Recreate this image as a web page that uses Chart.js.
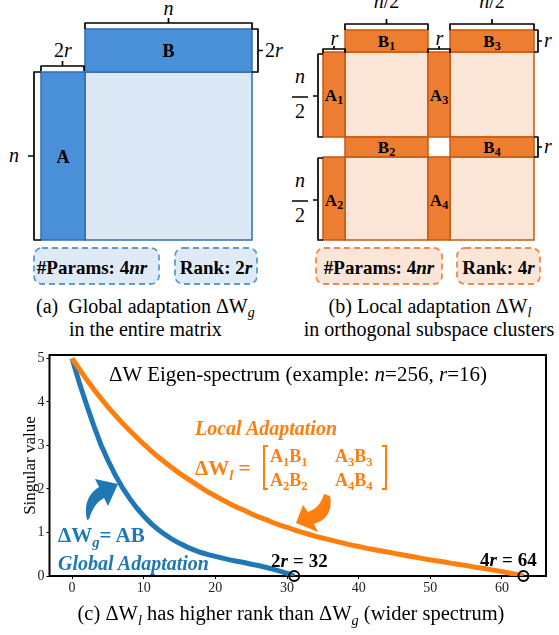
<!DOCTYPE html>
<html><head><meta charset="utf-8">
<script src="https://cdn.jsdelivr.net/npm/chart.js@4/dist/chart.umd.min.js"></script>
<style>
html,body{margin:0;padding:0;background:#fff;}
#wrap{position:relative;width:559px;height:635px;overflow:hidden;background:#fff;font-family:"Liberation Serif",serif;}
.t{position:absolute;white-space:nowrap;line-height:1;}
.c{transform:translate(-50%,-50%);}
.l{transform:translateY(-50%);}
.sub{font-size:0.7em;position:relative;top:0.32em;}
.it{font-style:italic;}
.b{font-weight:bold;}
.or{color:#ff7f0e;}
.bl{color:#1f77b4;}
.eq{margin:0 5px;}
</style></head>
<body><div id="wrap">
<svg width="559" height="345" style="position:absolute;left:0;top:0" font-family="Liberation Serif">
 <g stroke-width="1.5">
  <rect x="85" y="72" width="167" height="168" fill="#dce8f5" stroke="#2e6db3"/>
  <rect x="41" y="72" width="44" height="168" fill="#4a90d9" stroke="#2e6db3"/>
  <rect x="85" y="29" width="167" height="43" fill="#4a90d9" stroke="#2e6db3"/>
 </g>
 <g stroke-width="1.5" stroke="#c55a11">
  <rect x="345" y="52" width="83" height="85" fill="#fbe5d6"/>
  <rect x="450" y="52" width="84" height="85" fill="#fbe5d6"/>
  <rect x="345" y="157" width="83" height="83" fill="#fbe5d6"/>
  <rect x="450" y="157" width="84" height="83" fill="#fbe5d6"/>
  <rect x="345" y="30" width="83" height="22" fill="#ed7d31"/>
  <rect x="450" y="30" width="84" height="22" fill="#ed7d31"/>
  <rect x="345" y="137" width="83" height="20" fill="#ed7d31"/>
  <rect x="450" y="137" width="84" height="20" fill="#ed7d31"/>
  <rect x="323" y="52" width="22" height="85" fill="#ed7d31"/>
  <rect x="428" y="52" width="22" height="85" fill="#ed7d31"/>
  <rect x="323" y="157" width="22" height="83" fill="#ed7d31"/>
  <rect x="428" y="157" width="22" height="83" fill="#ed7d31"/>
 </g>
 <path fill="none" stroke="#000" stroke-width="1.7" stroke-linejoin="round" d="M85,29 L85,23 L252,23 L252,29 M168.5,23 L168.5,18 M41,71 L41,66 L84,66 L84,71 M62.5,66 L62.5,61 M252,29 L258,29 L258,72 L252,72 M258,50.5 L263,50.5 M41,72 L34,72 L34,240 L41,240 M34,156 L28,156
 M345,30 L345,24 L428,24 L428,30 M386.5,24 L386.5,19 M450,30 L450,24 L534,24 L534,30 M492,24 L492,19 M323,53 L323,49 L345,49 L345,53 M334,49 L334,46 M428,53 L428,49 L450,49 L450,53 M439,49 L439,46 M534,30 L538,30 L538,52 L534,52 M538,41 L542,41 M534,137 L538,137 L538,157 L534,157 M538,147 L542,147 M323,54 L318,54 L318,137 L323,137 M318,96 L313,96 M323,158 L318,158 L318,240 L323,240 M318,200 L313,200 M292,97 L308,97 M292,201 L308,201"/>
 <g stroke-width="1.8" stroke-dasharray="6 4">
  <rect x="34" y="248" width="125" height="36" rx="8" fill="#deebf7" stroke="#5b9bd5"/>
  <rect x="175" y="248" width="82" height="36" rx="8" fill="#deebf7" stroke="#5b9bd5"/>
  <rect x="316" y="248" width="126" height="36" rx="8" fill="#fbe5d6" stroke="#f0884a"/>
  <rect x="457" y="248" width="83" height="36" rx="8" fill="#fbe5d6" stroke="#f0884a"/>
 </g>
 <g font-size="20" font-style="italic" text-anchor="middle" fill="#000">
  <text x="168.5" y="15">n</text>
  <text x="63" y="57"><tspan font-style="normal">2</tspan>r</text>
  <text x="265" y="57" text-anchor="start"><tspan font-style="normal">2</tspan>r</text>
  <text x="14" y="162">n</text>
  <text x="386.5" y="8">n<tspan font-style="normal">/2</tspan></text>
  <text x="492" y="8">n<tspan font-style="normal">/2</tspan></text>
  <text x="334.5" y="45">r</text>
  <text x="439.5" y="45">r</text>
  <text x="544" y="47" text-anchor="start">r</text>
  <text x="544" y="153" text-anchor="start">r</text>
  <text x="300" y="83">n</text>
  <text x="300" y="118" font-style="normal">2</text>
  <text x="300" y="187">n</text>
  <text x="300" y="222" font-style="normal">2</text>
 </g>
 <g font-size="17" font-weight="bold" text-anchor="middle" fill="#000">
  <text x="168.5" y="57" font-size="18">B</text>
  <text x="63" y="163" font-size="18">A</text>
  <text x="386.5" y="47">B<tspan font-size="12" dy="3">1</tspan></text>
  <text x="492" y="47">B<tspan font-size="12" dy="3">3</tspan></text>
  <text x="386.5" y="153">B<tspan font-size="12" dy="3">2</tspan></text>
  <text x="492" y="153">B<tspan font-size="12" dy="3">4</tspan></text>
  <text x="334" y="101">A<tspan font-size="12" dy="3">1</tspan></text>
  <text x="439" y="101">A<tspan font-size="12" dy="3">3</tspan></text>
  <text x="334" y="206">A<tspan font-size="12" dy="3">2</tspan></text>
  <text x="439" y="206">A<tspan font-size="12" dy="3">4</tspan></text>
 </g>
 <g font-size="19" font-weight="bold" text-anchor="middle" fill="#000">
  <text x="92" y="274">#Params: 4<tspan font-style="italic">nr</tspan></text>
  <text x="216" y="274">Rank: 2<tspan font-style="italic">r</tspan></text>
  <text x="379" y="274">#Params: 4<tspan font-style="italic">nr</tspan></text>
  <text x="498.5" y="274">Rank: 4<tspan font-style="italic">r</tspan></text>
 </g>
</svg>
<div class="t l" style="left:36px;top:306px;font-size:20px;">(a)&nbsp; Global adaptation ΔW<span class="sub it">g</span></div>
<div class="t l" style="left:69px;top:329px;font-size:20px;">in the entire matrix</div>
<div class="t c" style="left:430px;top:306px;font-size:20px;">(b) Local adaptation ΔW<span class="sub it">l</span></div>
<div class="t c" style="left:429px;top:329px;font-size:20px;">in orthogonal subspace clusters</div>

<canvas id="chart" width="559" height="260" style="position:absolute;left:0;top:340px;width:559px;height:260px;"></canvas>

<svg width="559" height="635" style="position:absolute;left:0;top:0;pointer-events:none">
 <path fill="#1f77b4" d="M118,484 L95,479 L99,487 Q82,498 87,520 L89,519 Q94,503 104,498 L108,506 Z"/>
 <path fill="#ff7f0e" d="M296,523 L303,505 L308,512 Q320,508 324,494 L330,496 Q334,518 314,524 L318,532 Z"/>
</svg>

<div class="t c" style="left:298px;top:374px;font-size:21px;">ΔW Eigen-spectrum (example: <span class="it">n</span>=256, <span class="it">r</span>=16)</div>
<div class="t l or b it" style="left:195px;top:428px;font-size:20px;">Local Adaptation</div>
<div class="t l or b" style="left:195px;top:468px;font-size:21px;">ΔW<span class="sub it">l</span> =</div>
<div style="position:absolute;left:263px;top:445px;width:5px;height:45px;border:2px solid #ff7f0e;border-right:none;box-sizing:border-box;"></div>
<div style="position:absolute;left:382px;top:445px;width:5px;height:45px;border:2px solid #ff7f0e;border-left:none;box-sizing:border-box;"></div>
<div class="t l or b" style="left:270px;top:456px;font-size:18px;">A<span class="sub">1</span>B<span class="sub">1</span></div>
<div class="t l or b" style="left:335px;top:456px;font-size:18px;">A<span class="sub">3</span>B<span class="sub">3</span></div>
<div class="t l or b" style="left:270px;top:480px;font-size:18px;">A<span class="sub">2</span>B<span class="sub">2</span></div>
<div class="t l or b" style="left:335px;top:480px;font-size:18px;">A<span class="sub">4</span>B<span class="sub">4</span></div>
<div class="t l bl b" style="left:58px;top:535px;font-size:21px;">ΔW<span class="sub it">g</span>= AB</div>
<div class="t l bl b it" style="left:58px;top:563px;font-size:20px;">Global Adaptation</div>
<div class="t l b" style="left:271px;top:560px;font-size:19px;">2<span class="it">r</span><span class="eq">=</span>32</div>
<div class="t l b" style="left:480px;top:559px;font-size:19px;">4<span class="it">r</span><span class="eq">=</span>64</div>
<div class="t c" style="left:291px;top:613px;font-size:20.5px;">(c) ΔW<span class="sub it">l</span> has higher rank than ΔW<span class="sub it">g</span> (wider spectrum)</div>
</div>
<script>
// Singular values (index = singular value rank)
const globalSV = [5.00,4.45,3.95,3.47,3.03,2.66,2.33,2.04,1.79,1.57,1.38,1.21,1.07,0.95,0.84,0.75,0.67,0.60,0.54,0.49,0.45,0.41,0.37,0.34,0.31,0.27,0.24,0.20,0.16,0.11,0.06,0.00];
const localSV = [5.00,4.76,4.52,4.30,4.09,3.89,3.70,3.52,3.35,3.19,3.03,2.88,2.74,2.61,2.48,2.36,2.25,2.14,2.03,1.93,1.84,1.75,1.66,1.58,1.51,1.43,1.36,1.30,1.23,1.17,1.12,1.06,1.01,0.96,0.91,0.87,0.83,0.79,0.75,0.71,0.68,0.64,0.61,0.58,0.55,0.52,0.49,0.46,0.43,0.40,0.37,0.345,0.32,0.29,0.265,0.24,0.21,0.185,0.16,0.13,0.10,0.07,0.035,0.00];
const markerRanks = [31, 63];
const markerValues = [0, 0];
const xTicks = [0, 10, 20, 30, 40, 50, 60];
const yTicks = [0, 1, 2, 3, 4, 5];

const serif = "'Liberation Serif', 'Times New Roman', serif";
const framePlugin = {
  id: 'frame',
  beforeDatasetsDraw(chart) {
    const {ctx, chartArea: a} = chart;
    ctx.save();
    ctx.strokeStyle = '#000';
    ctx.lineWidth = 2;
    ctx.strokeRect(a.left, a.top, a.right - a.left, a.bottom - a.top);
    ctx.restore();
  }
};
const tickFont = {family: serif, size: 14};
new Chart(document.getElementById('chart'), {
  type: 'line',
  data: {
    datasets: [
      {data: globalSV.map((v, i) => ({x: i, y: v})), borderColor: '#1f77b4', borderWidth: 5, pointRadius: 0, fill: false, order: 2},
      {data: localSV.map((v, i) => ({x: i, y: v})), borderColor: '#ff7f0e', borderWidth: 5, pointRadius: 0, fill: false, order: 1},
      {type: 'scatter', data: markerRanks.map((r, i) => ({x: r, y: markerValues[i]})), pointRadius: 5, pointBorderColor: '#000', pointBackgroundColor: 'rgba(0,0,0,0)', pointBorderWidth: 2, order: 0, clip: false}
    ]
  },
  options: {
    responsive: false, animation: false, devicePixelRatio: 1,
    font: {family: serif},
    layout: {padding: {top: 15, right: 13, left: 0, bottom: 0}},
    plugins: {legend: {display: false}, tooltip: {enabled: false}},
    scales: {
      x: {
        type: 'linear', min: -3.15, max: 66.15,
        afterBuildTicks: s => { s.ticks = xTicks.map(v => ({value: v})); },
        afterFit: s => { s.height = 24; },
        grid: {drawOnChartArea: false, tickLength: 3, tickColor: '#000', tickWidth: 1},
        border: {display: false},
        ticks: {font: tickFont, color: '#222', padding: 1, maxRotation: 0}
      },
      y: {
        type: 'linear', min: 0, max: 5.08,
        afterBuildTicks: s => { s.ticks = yTicks.map(v => ({value: v})); },
        afterFit: s => { s.width = 49.5; },
        grid: {drawOnChartArea: false, tickLength: 3, tickColor: '#000', tickWidth: 1},
        border: {display: false},
        ticks: {font: tickFont, color: '#222', padding: 2},
        title: {display: true, text: 'Singular value', font: {family: serif, size: 17}, color: '#000', padding: {top: 20, bottom: 0}}
      }
    }
  },
  plugins: [framePlugin]
});
</script>
</body></html>
